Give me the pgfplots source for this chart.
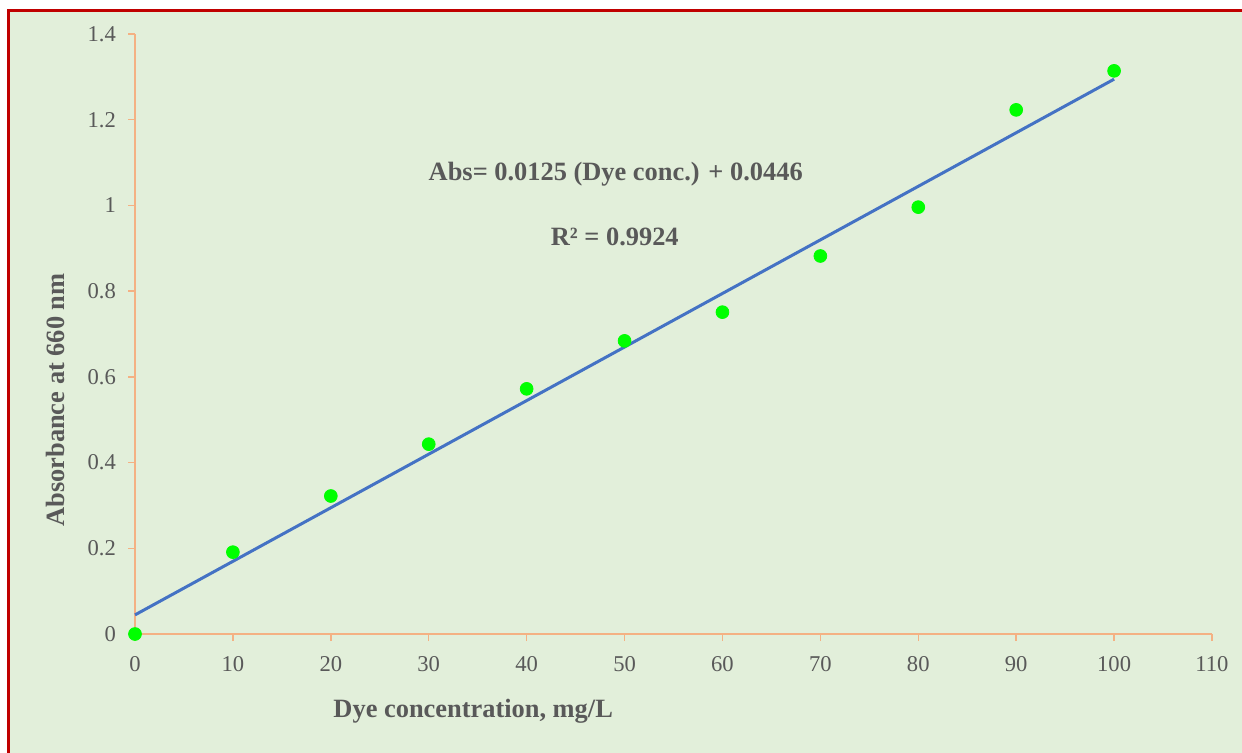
\documentclass[border=0pt]{standalone}
\usepackage{pgfplots}
\pgfplotsset{compat=1.18}
\usepackage{fontspec}
\setmainfont{Liberation Serif}

\definecolor{panel}{HTML}{E2EFDA}
\definecolor{frame}{HTML}{C00000}
\definecolor{axisline}{HTML}{F4B183}
\definecolor{txt}{HTML}{595959}
\definecolor{dot}{HTML}{00FF00}
\definecolor{fit}{HTML}{4472C4}

\begin{document}
\begin{tikzpicture}
\useasboundingbox (0,0) rectangle (621pt,376pt);
\fill[white] (0,0) rectangle (621pt,376pt);
\fill[panel] (4.15pt,-5pt) rectangle (630pt,370.6pt);
\draw[frame, line width=1.5pt, line join=miter] (4.15pt,-5pt) -- (4.15pt,370.6pt) -- (630pt,370.6pt);

\begin{axis}[
  at={(67.5pt,59pt)}, anchor=south west,
  scale only axis, width=538.5pt, height=300pt,
  xmin=0, xmax=110, ymin=0, ymax=1.4,
  axis x line*=bottom, axis y line*=left,
  axis line style={axisline, line width=0.75pt},
  xtick={0,10,20,30,40,50,60,70,80,90,100,110},
  ytick={0,0.2,0.4,0.6,0.8,1,1.2,1.4},
  yticklabels={0,0.2,0.4,0.6,0.8,1,1.2,1.4},
  xticklabels={0,10,20,30,40,50,60,70,80,90,100,110},
  tick align=outside, major tick length=3.5pt,
  tick style={axisline, line width=0.75pt},
  ticklabel style={font=\fontsize{11.3}{13}\selectfont, text=txt},
  xticklabel style={yshift=-4pt},
  yticklabel style={xshift=-2.5pt},
  /pgf/number format/assume math mode=true,
  xlabel={Dye concentration, mg/L},
  ylabel={Absorbance at 660 nm},
  label style={font=\fontsize{13.2}{15}\selectfont\bfseries, text=txt},
  xlabel style={at={(rel axis cs:0.314,-0.128)}, anchor=center},
  ylabel style={at={(rel axis cs:-0.0743,0.39)}, anchor=center, rotate=0},
  clip=false,
]
% linear fit: Abs = 0.0125 c + 0.0446
\addplot[fit, line width=1.5pt] coordinates {(0,0.0446) (100,1.2946)};
% measured absorbances
\addplot[only marks, mark=*, mark size=3.2pt, dot, mark options={draw=dot, fill=dot}] coordinates {
  (0,0) (10,0.191) (20,0.322) (30,0.443) (40,0.572) (50,0.684)
  (60,0.751) (70,0.882) (80,0.996) (90,1.223) (100,1.314)
};
\node[font=\fontsize{13.2}{15}\selectfont\bfseries, text=txt] at (axis cs:49.1,1.072) {Abs= 0.0125 (Dye conc.) + 0.0446};
\node[font=\fontsize{13.2}{15}\selectfont\bfseries, text=txt] at (axis cs:49.0,0.927) {R² = 0.9924};
\end{axis}
\end{tikzpicture}
\end{document}
